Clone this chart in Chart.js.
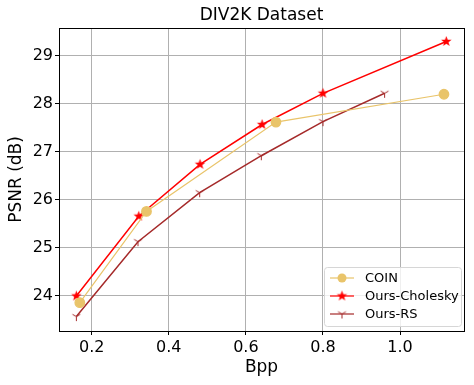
<!DOCTYPE html>
<html>
<head>
<meta charset="utf-8">
<script src="https://cdn.jsdelivr.net/npm/chart.js@4"></script>
<style>
  body { margin: 0; background: #fff; }
  #wrap { width: 474px; height: 385px; }
</style>
</head>
<body>
<div id="wrap"><canvas id="psnrChart" width="474" height="385"></canvas></div>
<script>
// data
const coinBpp = [0.169, 0.342, 0.678, 1.114];
const coinPsnr = [23.86, 25.76, 27.62, 28.20];
const choleskyBpp = [0.16, 0.322, 0.481, 0.642, 0.80, 1.12];
const choleskyPsnr = [24.00, 25.66, 26.74, 27.57, 28.22, 29.30];
const rsBpp = [0.16, 0.32, 0.48, 0.64, 0.80, 0.96];
const rsPsnr = [23.57, 25.13, 26.15, 26.92, 27.63, 28.22];
const xTicks = [0.2, 0.4, 0.6, 0.8, 1.0];
const yTicks = [24, 25, 26, 27, 28, 29];
const chartTitle = 'DIV2K Dataset';

const COIN_COLOR = '#e9c46a';
const CHOL_COLOR = '#ff0000';
const RS_COLOR = '#a52a2a';
const FONT = "'DejaVu Sans', sans-serif";

const toPoints = (xs, ys) => xs.map((x, i) => ({ x: x, y: ys[i] }));

// custom marker images
function starMarker(color, r) {
    const c = document.createElement('canvas');
    const s = Math.ceil(r * 2 + 2);
    c.width = s; c.height = s;
    const ctx = c.getContext('2d');
    ctx.translate(s / 2, s / 2);
    ctx.beginPath();
    for (let i = 0; i < 10; i++) {
        const rad = i % 2 === 0 ? r : r * 0.42;
        const a = -Math.PI / 2 + i * Math.PI / 5;
        ctx.lineTo(rad * Math.cos(a), rad * Math.sin(a));
    }
    ctx.closePath();
    ctx.fillStyle = color;
    ctx.fill();
    return c;
}

function triDownMarker(color, r) {
    const c = document.createElement('canvas');
    const s = Math.ceil(r * 2 + 2);
    c.width = s; c.height = s;
    const ctx = c.getContext('2d');
    ctx.translate(s / 2, s / 2);
    ctx.strokeStyle = color;
    ctx.lineWidth = 1;
    [90, 210, 330].forEach(deg => {
        const a = deg * Math.PI / 180;
        ctx.beginPath();
        ctx.moveTo(0, 0);
        ctx.lineTo(r * Math.cos(a), r * Math.sin(a));
        ctx.stroke();
    });
    return c;
}

const starImg = starMarker(CHOL_COLOR, 5.5);
const triImg = triDownMarker(RS_COLOR, 4.5);

// legend drawn inside the plot, lower right (like matplotlib)
const insideLegend = {
    id: 'insideLegend',
    afterDraw(chart) {
        const { ctx, chartArea } = chart;
        const w = 137, h = 59;
        const x0 = chartArea.right - w - 3, y0 = chartArea.bottom - h - 5;
        ctx.save();
        ctx.fillStyle = 'rgba(255,255,255,0.8)';
        ctx.strokeStyle = '#d6d6d6';
        ctx.lineWidth = 1;
        ctx.beginPath();
        ctx.roundRect(x0 + 0.5, y0 + 0.5, w, h, 3);
        ctx.fill();
        ctx.stroke();
        ctx.font = '13px ' + FONT;
        ctx.textBaseline = 'middle';
        chart.data.datasets.forEach((ds, i) => {
            const y = y0 + 11 + i * 18;
            ctx.strokeStyle = ds.borderColor;
            ctx.globalAlpha = 0.8;
            ctx.lineWidth = 1.5;
            ctx.beginPath();
            ctx.moveTo(x0 + 6, y);
            ctx.lineTo(x0 + 30, y);
            ctx.stroke();
            ctx.globalAlpha = 1;
            if (ds.pointStyle === 'circle') {
                ctx.fillStyle = ds.pointBackgroundColor;
                ctx.beginPath();
                ctx.arc(x0 + 18, y, 4.5, 0, Math.PI * 2);
                ctx.fill();
            } else {
                const img = ds.pointStyle;
                ctx.drawImage(img, x0 + 18 - img.width / 2, y - img.height / 2);
            }
            ctx.fillStyle = '#000';
            ctx.fillText(ds.label, x0 + 41, y + 1);
        });
        ctx.restore();
    }
};

// title centred over the plot area, not the whole canvas
const plotTitle = {
    id: 'plotTitle',
    afterDraw(chart) {
        const { ctx, chartArea: a } = chart;
        ctx.save();
        ctx.font = '17px ' + FONT;
        ctx.fillStyle = '#000';
        ctx.textAlign = 'center';
        ctx.textBaseline = 'alphabetic';
        ctx.fillText(chartTitle, (a.left + a.right) / 2, a.top - 8);
        ctx.restore();
    }
};

new Chart(document.getElementById('psnrChart'), {
    type: 'scatter',
    data: {
        datasets: [
            {
                label: 'COIN',
                data: toPoints(coinBpp, coinPsnr),
                showLine: true,
                borderColor: COIN_COLOR,
                borderWidth: 1.2,
                pointStyle: 'circle',
                pointRadius: 4.8,
                pointBackgroundColor: COIN_COLOR,
                pointBorderColor: COIN_COLOR
            },
            {
                label: 'Ours-Cholesky',
                data: toPoints(choleskyBpp, choleskyPsnr),
                showLine: true,
                borderColor: CHOL_COLOR,
                borderWidth: 1.5,
                pointStyle: starImg,
                pointRadius: 5
            },
            {
                label: 'Ours-RS',
                data: toPoints(rsBpp, rsPsnr),
                showLine: true,
                borderColor: RS_COLOR,
                borderWidth: 1.5,
                pointStyle: triImg,
                pointRadius: 5
            }
        ]
    },
    options: {
        responsive: false,
        animation: false,
        events: [],
        layout: { padding: { left: 0, right: 10, top: 28, bottom: 0 } },
        plugins: {
            legend: { display: false },
            tooltip: { enabled: false },
            title: { display: false }
        },
        scales: {
            x: {
                type: 'linear',
                min: 0.115,
                max: 1.166,
                afterBuildTicks: s => { s.ticks = xTicks.map(v => ({ value: v })); },
                afterFit: s => { s.height = 54; },
                grid: { color: '#b0b0b0', lineWidth: 1, tickLength: 4, tickColor: '#000' },
                border: { color: '#000', width: 1 },
                ticks: {
                    color: '#000',
                    font: { family: FONT, size: 16 },
                    padding: 3,
                    maxRotation: 0,
                    callback: v => v.toFixed(1)
                },
                title: {
                    display: true,
                    text: 'Bpp',
                    color: '#000',
                    font: { family: FONT, size: 17 },
                    padding: { top: 2, bottom: 7 }
                }
            },
            y: {
                type: 'linear',
                min: 23.27,
                max: 29.58,
                afterBuildTicks: s => { s.ticks = yTicks.map(v => ({ value: v })); },
                afterFit: s => { s.width = 59; },
                grid: { color: '#b0b0b0', lineWidth: 1, tickLength: 4, tickColor: '#000' },
                border: { color: '#000', width: 1 },
                ticks: {
                    color: '#000',
                    font: { family: FONT, size: 16 },
                    padding: 2,
                    callback: v => String(v)
                },
                title: {
                    display: true,
                    text: 'PSNR (dB)',
                    color: '#000',
                    font: { family: FONT, size: 17 },
                    padding: { top: 6, bottom: 4 }
                }
            }
        }
    },
    plugins: [insideLegend, plotTitle, {
        // close the box on top and right like matplotlib spines
        id: 'frame',
        afterDraw(chart) {
            const { ctx, chartArea: a } = chart;
            ctx.save();
            ctx.strokeStyle = '#000';
            ctx.lineWidth = 1;
            ctx.strokeRect(Math.round(a.left) + 0.5, Math.round(a.top) + 0.5,
                Math.round(a.right - a.left), Math.round(a.bottom - a.top));
            ctx.restore();
        }
    }]
});
</script>
</body>
</html>
